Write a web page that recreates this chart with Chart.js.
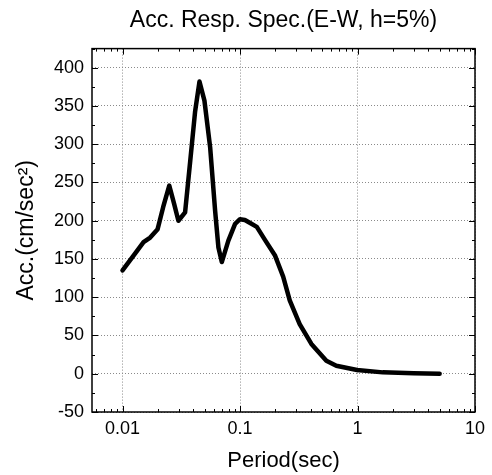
<!DOCTYPE html>
<html>
<head>
<meta charset="utf-8">
<script src="https://cdn.jsdelivr.net/npm/chart.js@4/dist/chart.umd.min.js"></script>
<style>
  html, body { margin: 0; padding: 0; background: #fff; }
</style>
</head>
<body>
<canvas id="myChart" width="492" height="475"></canvas>
<script>
// period (sec) and spectral acceleration (cm/sec^2)
var periods = [0.01, 0.0125, 0.0151, 0.0172, 0.0199, 0.0222, 0.025, 0.0275, 0.0299, 0.0341,
  0.0377, 0.0415, 0.0452, 0.0498, 0.0557, 0.0614, 0.0655, 0.070, 0.0796, 0.0908,
  0.1, 0.11, 0.122, 0.139, 0.163, 0.198, 0.233, 0.265, 0.322, 0.405,
  0.543, 0.66, 0.99, 1.64, 3.0, 5.0];
var accel = [135, 155, 172, 178, 189, 218, 246, 222, 200, 211,
  278, 343, 382, 357, 296, 213, 165, 146, 174, 196,
  202, 201, 197, 192, 175, 155, 127, 96, 65, 39,
  17, 10.5, 4.8, 1.8, 0.5, 0];

var xTicks = [0.01, 0.1, 1, 10];
var yTicks = [-50, 0, 50, 100, 150, 200, 250, 300, 350, 400];

var FONT = "'Liberation Sans', Arial, sans-serif";

// ----------------------------------------------------------------

// box round the plot, with inward ticks on all four sides
const frameTicks = {
  id: 'frameTicks',
  afterDatasetsDraw(chart) {
    const ctx = chart.ctx;
    const a = chart.chartArea;
    const x = chart.scales.x;
    const y = chart.scales.y;
    ctx.save();
    ctx.strokeStyle = '#000';
    ctx.lineWidth = 1;
    ctx.beginPath();
    for (let e = -3; e <= 1; e++) {
      for (let m = 1; m <= 9; m++) {
        const v = m * Math.pow(10, e);
        if (v < x.min || v > x.max) continue;
        const px = Math.round(x.getPixelForValue(v)) + 0.5;
        const len = m === 1 ? 6 : 3;
        ctx.moveTo(px, a.bottom); ctx.lineTo(px, a.bottom - len);
        ctx.moveTo(px, a.top); ctx.lineTo(px, a.top + len);
      }
    }
    for (let v = Math.ceil(y.min / 25) * 25; v <= y.max; v += 25) {
      const py = Math.round(y.getPixelForValue(v)) + 0.5;
      const len = v % 50 === 0 ? 6 : 3;
      ctx.moveTo(a.left, py); ctx.lineTo(a.left + len, py);
      ctx.moveTo(a.right, py); ctx.lineTo(a.right - len, py);
    }
    ctx.stroke();
    ctx.lineWidth = 1.5;
    ctx.strokeRect(a.left, a.top, a.right - a.left, a.bottom - a.top);
    ctx.restore();
  }
};

const data = {
  datasets: [{
    label: 'Acc',
    data: periods.map((p, i) => ({ x: p, y: accel[i] })),
    borderColor: '#000',
    borderWidth: 4.5,
    pointRadius: 0,
    tension: 0,
    borderJoinStyle: 'round',
    borderCapStyle: 'round'
  }]
};

const config = {
  type: 'line',
  data: data,
  plugins: [frameTicks],
  options: {
    responsive: false,
    animation: false,
    layout: { padding: { left: 0, right: 17, top: 0, bottom: 0 } },
    plugins: {
      legend: { display: false },
      tooltip: { enabled: false },
      title: {
        display: true,
        fullSize: false,
        text: 'Acc. Resp. Spec.(E-W, h=5%)',
        color: '#000',
        font: { family: FONT, size: 23, weight: 'normal' },
        padding: { top: 7, bottom: 14 }
      }
    },
    scales: {
      x: {
        type: 'logarithmic',
        min: 0.0055,
        max: 10,
        afterBuildTicks: (scale) => { scale.ticks = xTicks.map(v => ({ value: v })); },
        afterFit: (scale) => { scale.height = 63; },
        ticks: {
          color: '#000',
          font: { family: FONT, size: 18 },
          padding: 6,
          maxRotation: 0,
          autoSkip: false,
          callback: (v) => String(v)
        },
        grid: { color: '#8a8a8a', lineWidth: 1, drawTicks: false },
        border: { display: false, dash: [1, 2] },
        title: {
          display: true,
          text: 'Period(sec)',
          color: '#000',
          font: { family: FONT, size: 22 },
          padding: { top: 0, bottom: 1 }
        }
      },
      y: {
        min: -50,
        max: 425,
        afterBuildTicks: (scale) => { scale.ticks = yTicks.map(v => ({ value: v })); },
        afterFit: (scale) => { scale.width = 92; },
        ticks: {
          color: '#000',
          font: { family: FONT, size: 18 },
          padding: 8
        },
        grid: { color: '#8a8a8a', lineWidth: 1, drawTicks: false },
        border: { display: false, dash: [1, 2] },
        title: {
          display: true,
          text: 'Acc.(cm/sec\u00B2)',
          color: '#000',
          font: { family: FONT, size: 23 },
          padding: { top: 13, bottom: 0 }
        }
      }
    }
  }
};

var myChart = new Chart(document.getElementById('myChart').getContext('2d'), config);
</script>
</body>
</html>
